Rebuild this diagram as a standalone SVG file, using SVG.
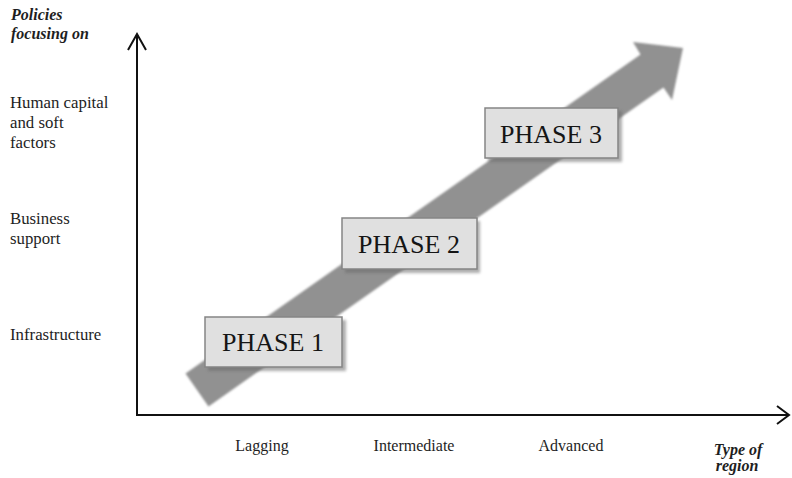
<svg xmlns="http://www.w3.org/2000/svg" width="792" height="478" viewBox="0 0 792 478">
<style>
.lbl{font-family:"Liberation Serif","Times New Roman",serif;font-size:16px;fill:#1e1e1e}
.yl{font-size:16.8px}
.ttl{font-family:"Liberation Serif","Times New Roman",serif;font-size:16px;font-weight:bold;font-style:italic;fill:#1e1e1e}
.ph{font-family:"Liberation Serif","Times New Roman",serif;font-size:26px;fill:#151515;text-anchor:middle}
.box{fill:#e0e0e0;stroke:#858585;stroke-width:1.5}
.shadow{fill:#6a6a6a;opacity:0.55}
.axis{stroke:#111;stroke-width:2;fill:none}
</style>
<defs>
<filter id="soft" x="-5%" y="-5%" width="110%" height="110%"><feGaussianBlur stdDeviation="1.2"/></filter>
<filter id="sh" x="-10%" y="-10%" width="120%" height="130%"><feGaussianBlur stdDeviation="1.5"/></filter>
</defs>
<rect width="792" height="478" fill="#ffffff"/>
<g id="connectors">
<polygon id="growth-arrow" points="185.5,373.6 640.5,54.6 633,42 683,48 672,100 663.5,87.4 208.5,406.4" fill="#919191" filter="url(#soft)"/>
<g id="y-axis">
<line class="axis" x1="137" y1="416" x2="137" y2="34"/>
<polyline class="axis" points="128,50 137,34 146,50"/>
</g>
<g id="x-axis">
<line class="axis" x1="136" y1="415" x2="789" y2="415"/>
<polyline class="axis" points="777,406 789,415 777,424"/>
</g>
</g>
<g id="phase1">
<rect class="shadow" x="208" y="320" width="138" height="51" filter="url(#sh)"/>
<rect class="box" x="205" y="317" width="137" height="50"/>
<text class="ph" x="273" y="351">PHASE 1</text>
</g>
<g id="phase2">
<rect class="shadow" x="345" y="221" width="135" height="52" filter="url(#sh)"/>
<rect class="box" x="342" y="218" width="135" height="51"/>
<text class="ph" x="409" y="253">PHASE 2</text>
</g>
<g id="phase3">
<rect class="shadow" x="488" y="111" width="134" height="51" filter="url(#sh)"/>
<rect class="box" x="485" y="108" width="133" height="50"/>
<text class="ph" x="551" y="143">PHASE 3</text>
</g>
<g id="y-title">
<text class="ttl" x="11" y="20">Policies</text>
<text class="ttl" x="11" y="39">focusing on</text>
</g>
<g id="y-labels">
<text class="lbl yl" x="10" y="108">Human capital</text>
<text class="lbl yl" x="10" y="128">and soft</text>
<text class="lbl yl" x="10" y="148">factors</text>
<text class="lbl yl" x="10" y="224">Business</text>
<text class="lbl yl" x="10" y="244">support</text>
<text class="lbl yl" x="10" y="340">Infrastructure</text>
</g>
<g id="x-labels">
<text class="lbl" x="262" y="451" text-anchor="middle">Lagging</text>
<text class="lbl" x="414" y="451" text-anchor="middle">Intermediate</text>
<text class="lbl" x="571" y="451" text-anchor="middle">Advanced</text>
</g>
<g id="x-title">
<text class="ttl" x="738" y="455" text-anchor="middle">Type of</text>
<text class="ttl" x="737" y="471" text-anchor="middle">region</text>
</g>
</svg>
